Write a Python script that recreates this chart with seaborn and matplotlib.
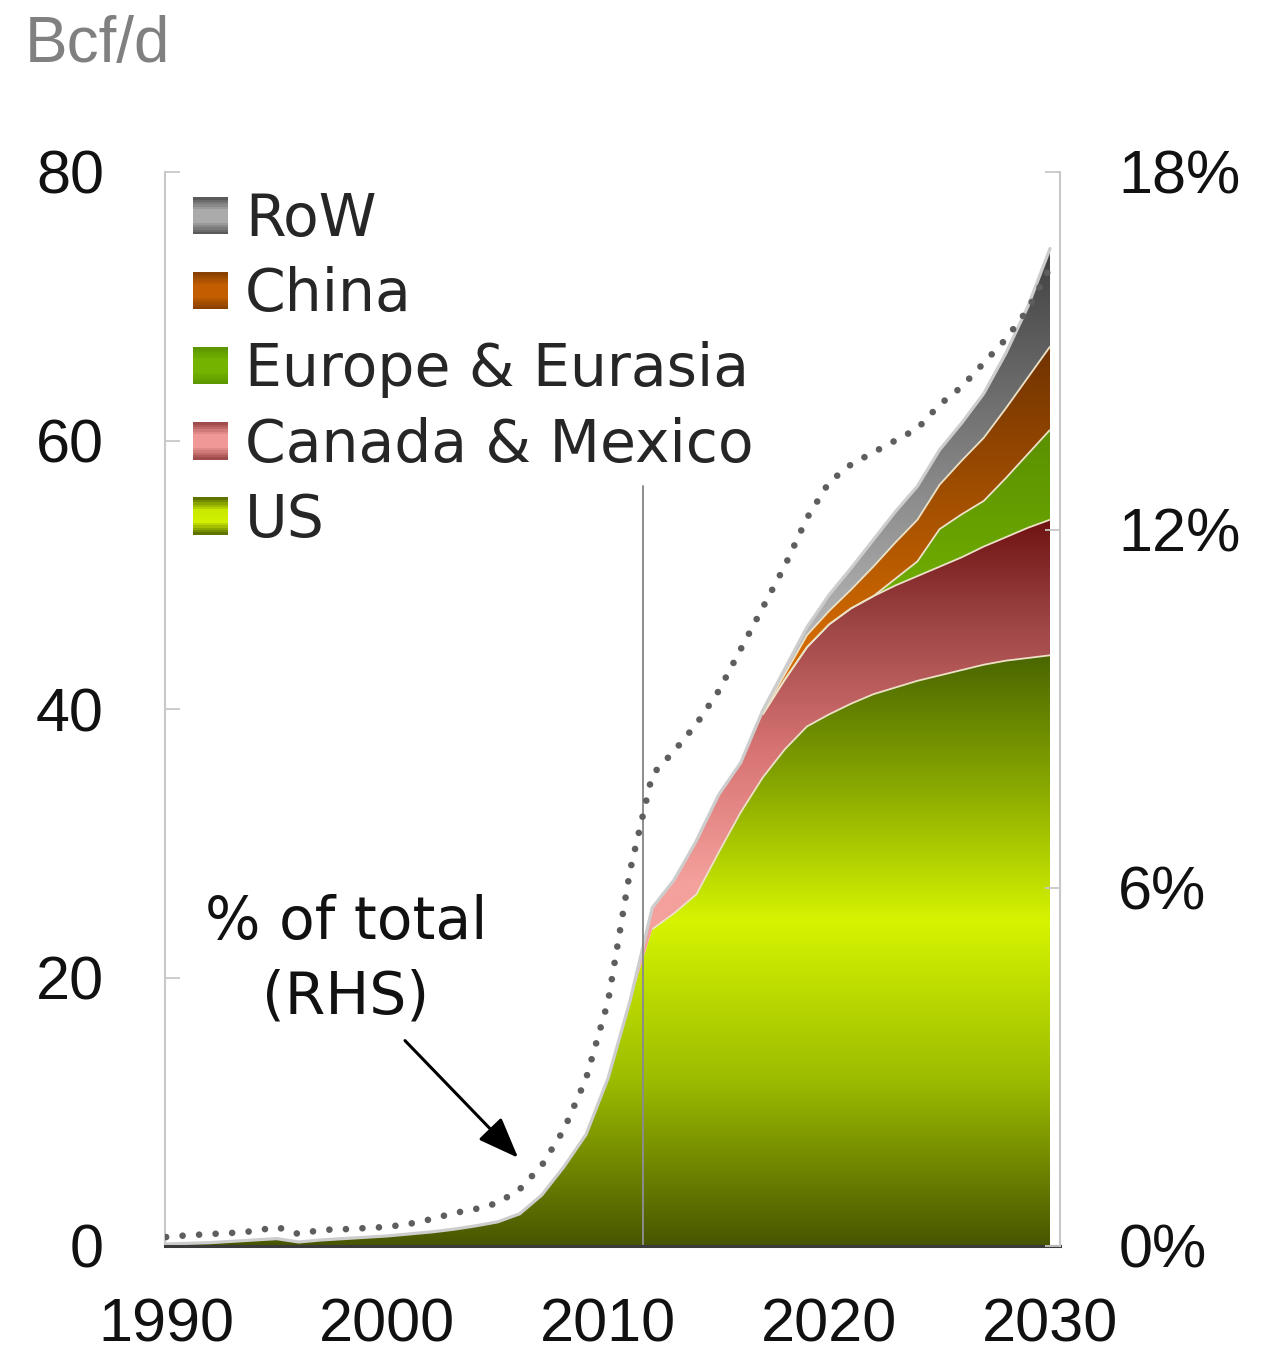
import numpy as np
import matplotlib
matplotlib.use("Agg")
import matplotlib.pyplot as plt
import seaborn as sns
from matplotlib.colors import LinearSegmentedColormap
from matplotlib.legend_handler import HandlerBase
from matplotlib.patches import Rectangle

# ---- data (Bcf/d, stacked by region) ----
years = list(range(1990, 2031))

us = [0.15, 0.2, 0.25, 0.35, 0.45, 0.55, 0.3, 0.45, 0.55, 0.65,
      0.75, 0.9, 1.05, 1.25, 1.5, 1.8, 2.4, 3.8, 5.9, 8.3,
      12.5, 18.3, 23.6, 24.8, 26.2, 29.3, 32.3, 34.9, 37.0, 38.7,
      39.6, 40.4, 41.1, 41.6, 42.1, 42.5, 42.9, 43.3, 43.6, 43.8, 44.0]

canada_mexico = [0, 0, 0, 0, 0, 0, 0, 0, 0, 0,
                 0, 0, 0, 0, 0, 0, 0, 0, 0, 0,
                 0, 0, 1.6, 2.5, 4.0, 4.3, 3.7, 4.7, 5.2, 5.9,
                 6.7, 7.1, 7.3, 7.6, 7.8, 8.1, 8.4, 8.8, 9.2, 9.7, 10.1]

europe_eurasia = [0, 0, 0, 0, 0, 0, 0, 0, 0, 0,
                  0, 0, 0, 0, 0, 0, 0, 0, 0, 0,
                  0, 0, 0, 0, 0, 0, 0, 0, 0, 0,
                  0, 0, 0, 0.5, 1.1, 2.8, 3.2, 3.4, 4.4, 5.5, 6.7]

china = [0, 0, 0, 0, 0, 0, 0, 0, 0, 0,
         0, 0, 0, 0, 0, 0, 0, 0, 0, 0,
         0, 0, 0, 0, 0, 0, 0, 0.1, 0.4, 0.9,
         1.0, 1.4, 2.2, 2.7, 3.1, 3.3, 4.0, 4.7, 5.2, 5.7, 6.2]

row = [0, 0, 0, 0, 0, 0, 0, 0, 0, 0,
       0, 0, 0, 0, 0, 0, 0, 0, 0, 0,
       0, 0, 0, 0, 0, 0, 0, 0.2, 0.4, 0.6,
       1.2, 1.6, 2.0, 2.3, 2.5, 2.6, 2.8, 3.3, 4.1, 5.3, 7.3]

# share of total gas production, % (right-hand axis)
share_pct = [0.15, 0.18, 0.2, 0.22, 0.25, 0.32, 0.2, 0.27, 0.28, 0.3,
             0.32, 0.37, 0.45, 0.55, 0.62, 0.72, 0.95, 1.35, 1.95, 2.8,
             4.1, 6.3, 7.9, 8.3, 8.75, 9.3, 10.0, 10.7, 11.4, 12.2,
             12.8, 13.1, 13.3, 13.5, 13.7, 14.1, 14.4, 14.8, 15.2, 15.7, 16.4]

series_names = ["US", "Canada & Mexico", "Europe & Eurasia", "China", "RoW"]
left_ticks = [0, 20, 40, 60, 80]
right_ticks = [0, 6, 12, 18]
right_tick_labels = ["0%", "6%", "12%", "18%"]
x_ticks = [1990, 2000, 2010, 2020, 2030]
outlook_start = 2011.6

# ---- styling ----
sns.set_theme(style="white")
plt.rcParams["font.family"] = ["DejaVu Sans"]
TICK_FONT = ["Liberation Sans", "DejaVu Sans"]
TICK_FS = 44
TEXT_FS = 42

# vertical colour ramps (value -> colour) for each stacked layer
ramps = {
    "US": ([(0.0, "#485600"), (0.28, "#9cbc00"), (0.55, "#d6f400"),
            (0.78, "#88a800"), (1.0, "#4a6600")], 0, 44),
    "Canada & Mexico": ([(0.0, "#f4a09c"), (0.35, "#d87474"),
                         (0.7, "#9c4444"), (1.0, "#6a0c0c")], 27, 55),
    "Europe & Eurasia": ([(0.0, "#74b200"), (1.0, "#5a9000")], 46, 61),
    "China": ([(0.0, "#d26a00"), (1.0, "#6c3000")], 45, 68),
    "RoW": ([(0.0, "#b4b4b4"), (1.0, "#3e3e3e")], 46, 75),
}
legend_ramps = {
    "US": ["#5e7400", "#c8e800", "#d2f000", "#5e7400"],
    "Canada & Mexico": ["#a04c4c", "#f09898", "#f09898", "#a04c4c"],
    "Europe & Eurasia": ["#5c9600", "#74b400", "#74b400", "#5c9600"],
    "China": ["#8a4000", "#c25e00", "#c25e00", "#8a4000"],
    "RoW": ["#5a5a5a", "#aaaaaa", "#aaaaaa", "#5a5a5a"],
}

Y_MAX = 80


class GradientSquare(HandlerBase):
    def __init__(self, colors):
        super().__init__()
        self.cmap = LinearSegmentedColormap.from_list("lg", colors)

    def create_artists(self, legend, orig_handle, xdescent, ydescent,
                       width, height, fontsize, trans):
        n = 16
        arts = []
        for i in range(n):
            r = Rectangle((-xdescent, -ydescent + i * height / n), width,
                          height / n * 1.05,
                          facecolor=self.cmap(1 - i / (n - 1)),
                          edgecolor="none", transform=trans)
            arts.append(r)
        return arts


def gradient_fill(ax, x, lower, upper, stops, vmin, vmax, z):
    poly = ax.fill_between(x, lower, upper, facecolor="none",
                           edgecolor="none", zorder=z)
    cmap = LinearSegmentedColormap.from_list("g", stops)
    levels = np.linspace(0, Y_MAX, 801)
    grad = np.clip((levels - vmin) / (vmax - vmin), 0, 1).reshape(-1, 1)
    im = ax.imshow(grad, extent=[x[0], x[-1], 0, Y_MAX], origin="lower",
                   aspect="auto", cmap=cmap, vmin=0, vmax=1, zorder=z,
                   interpolation="bilinear")
    im.set_clip_path(poly.get_paths()[0], transform=ax.transData)
    return im


W, H = 1264, 1354
fig = plt.figure(figsize=(W / 100, H / 100), dpi=100)
ax = fig.add_axes([165 / W, (H - 1246) / H, 895 / W, 1074 / H])

x = np.array(years, dtype=float)
layers = np.array([us, canada_mexico, europe_eurasia, china, row],
                  dtype=float)
tops = np.cumsum(layers, axis=0)
bottoms = np.vstack([np.zeros_like(x), tops[:-1]])

for i, name in enumerate(series_names):
    stops, vmin, vmax = ramps[name]
    gradient_fill(ax, x, bottoms[i], tops[i], stops, vmin, vmax, 2 + i * 0.01)

# thin separators between layers
for i in range(len(series_names) - 1):
    above = layers[i + 1:].sum(axis=0)
    t = np.where(above > 0, tops[i], np.nan)
    ax.plot(x, t, color="#ece2c8", lw=1.3, zorder=3, solid_capstyle="butt")
# outline of the total
ax.plot(x, tops[-1], color="#cdcdcd", lw=2.3, zorder=3.1)

# start of the outlook period
ax.plot([outlook_start, outlook_start], [0, 56.6], color="#8c8c8c",
        lw=1.4, zorder=3.2)

ax.set_xlim(1989.95, 2030.45)
ax.set_ylim(0, Y_MAX)
ax.set_xticks(x_ticks)
ax.set_yticks(left_ticks)
ax.set_xticklabels([str(t) for t in x_ticks])
ax.tick_params(axis="y", direction="in", length=11, width=1.3,
               color="#c8c8c8", labelsize=TICK_FS, pad=44,
               labelcolor="#111111")
ax.tick_params(axis="x", length=0, labelsize=TICK_FS, pad=37,
               labelcolor="#111111")
for s in ("top", "right"):
    ax.spines[s].set_visible(False)
ax.spines["left"].set_color("#c8c8c8")
ax.spines["left"].set_linewidth(1.5)
ax.spines["bottom"].set_color("#3a3a3a")
ax.spines["bottom"].set_linewidth(2.2)
ax.spines["bottom"].set_zorder(5)

# share of total on the right-hand axis
ax2 = ax.twinx()
sns.lineplot(x=years, y=share_pct, ax=ax2, color="#5e5e5e", lw=4.8,
             linestyle=(0, (0.001, 2.48)), dash_capstyle="round",
             zorder=6)
ax2.set_ylim(0, 18)
ax2.set_xlim(1989.95, 2030.45)
ax2.set_yticks(right_ticks)
ax2.set_yticklabels(right_tick_labels)
ax2.set_ylabel("")
ax2.set_xlabel("")
ax.set_xlabel("")
ax.set_ylabel("")
ax2.tick_params(axis="y", direction="in", length=11, width=1.3,
                color="#c8c8c8", labelsize=TICK_FS, pad=42,
                labelcolor="#111111")
for s in ("top", "left", "bottom"):
    ax2.spines[s].set_visible(False)
ax2.spines["right"].set_color("#c8c8c8")
ax2.spines["right"].set_linewidth(1.5)

for lab in ax.get_xticklabels() + ax.get_yticklabels() + ax2.get_yticklabels():
    lab.set_family(TICK_FONT)

# legend with shaded squares, top entry first
handles, labels, hmap = [], [], {}
for name in reversed(series_names):
    h = Rectangle((0, 0), 1, 1)
    handles.append(h)
    labels.append(name)
    hmap[h] = GradientSquare(legend_ramps[name])
ax2.legend(handles, labels, handler_map=hmap, loc="upper left",
           bbox_to_anchor=(0.031, 0.982), frameon=False, fontsize=TEXT_FS,
           handlelength=0.6, handleheight=0.6, handletextpad=0.3,
           labelspacing=0.31, borderpad=0, borderaxespad=0)

# annotation for the dotted series
ax.text(1998.14, 21.3, "% of total\n(RHS)", ha="center", va="center",
        fontsize=TEXT_FS, linespacing=1.38, color="#111111", zorder=7)
ax.annotate("", xy=(2005.93, 6.57), xytext=(2000.81, 15.3),
            arrowprops=dict(arrowstyle="-|>,head_length=0.9,head_width=0.35",
                            color="black", lw=2.2, mutation_scale=28,
                            shrinkA=0, shrinkB=0), zorder=7)

fig.text(25 / W, 1 - 62 / H, "Bcf/d", fontsize=46, color="#808080",
         family=TICK_FONT, ha="left", va="baseline")

fig.savefig("out.png", dpi=100)
